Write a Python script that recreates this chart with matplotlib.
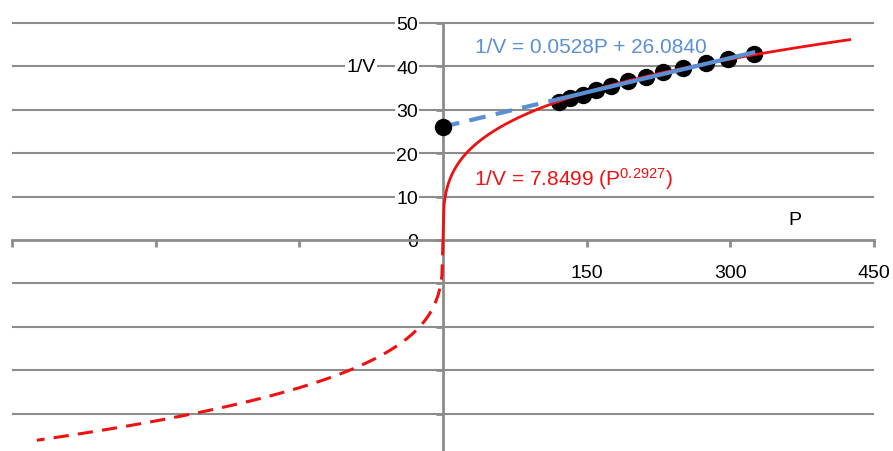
import numpy as np
import matplotlib
matplotlib.use("Agg")
import matplotlib.pyplot as plt

plt.rcParams['font.family'] = ['Liberation Sans', 'DejaVu Sans']
plt.rcParams['mathtext.fontset'] = 'custom'
plt.rcParams['mathtext.rm'] = 'Liberation Sans'
plt.rcParams['mathtext.it'] = 'Liberation Sans'

# measured points (P, 1/V)
p_obs = [121, 133, 146, 160, 175, 193, 212, 230, 251, 275, 298, 325]
inv_v_obs = [31.8, 32.7, 33.5, 34.6, 35.5, 36.6, 37.6, 38.6, 39.7, 40.7, 41.7, 42.8]

# fitted models shown on the chart
pow_a, pow_b = 7.8499, 0.2927
lin_m, lin_c = 0.0528, 26.0840

y_grid = [-40, -30, -20, -10, 0, 10, 20, 30, 40, 50]
y_labels = ['', '', '', '', '0', '10', '20', '30', '40', '50']
x_ticks = [-450, -300, -150, 150, 300, 450]
x_labels = ['', '', '', '150', '300', '450']

grey = '#8c8c8c'
blue = '#5b8fd4'
red = '#ee1111'

fig = plt.figure(figsize=(8.93, 4.52), dpi=100)
ax = fig.add_axes([0, 0, 1, 1])
ax.set_xlim(-462.5, 469.8)
ax.set_ylim(-48.6, 55.5)

for s in ['top', 'right']:
    ax.spines[s].set_visible(False)
ax.spines['left'].set_position(('data', 0))
ax.spines['bottom'].set_position(('data', 0))
ax.spines['left'].set_bounds(-60, 50)
ax.spines['bottom'].set_bounds(-450, 450)
for s in ['left', 'bottom']:
    ax.spines[s].set_color(grey)
    ax.spines[s].set_linewidth(2.0)
    ax.spines[s].set_zorder(2)

ax.hlines([g for g in y_grid if g != 0], -450, 450, color=grey, lw=1.5, zorder=1)

ax.set_yticks(y_grid)
ax.set_yticklabels(y_labels)
ax.set_xticks(x_ticks)
ax.set_xticklabels(x_labels)
ax.tick_params(axis='y', direction='out', length=5, width=2, color=grey,
               pad=13, labelsize=14, labelcolor='black')
ax.tick_params(axis='x', direction='out', length=5, width=2, color=grey,
               pad=12, labelsize=14, labelcolor='black')
for lab in ax.get_yticklabels():
    lab.set_bbox(dict(facecolor='white', edgecolor='none', pad=1))

# power curve, solid for P > 0, dashed mirror for P < 0
pp = np.linspace(0, 426, 400)
ax.plot(pp, pow_a * pp ** pow_b, color=red, lw=2.0, zorder=4, solid_capstyle='butt')
pn = np.linspace(0, 424, 400)
ax.plot(-pn, -pow_a * pn ** pow_b, color=red, lw=2.2, ls=(0, (5, 3)), zorder=4)

# linear fit: dashed extrapolation to intercept, solid across the data
pl1 = np.array([0, 118])
ax.plot(pl1, lin_m * pl1 + lin_c, color=blue, lw=3, ls=(0, (4, 2.5)), zorder=5)
pl2 = np.array([118, 326])
ax.plot(pl2, lin_m * pl2 + lin_c, color=blue, lw=3, zorder=5, solid_capstyle='butt')

ax.plot(p_obs, inv_v_obs, 'o', color='black', ms=11.5, zorder=3)
ax.plot([0], [lin_c], 'o', color='black', ms=11.5, zorder=6)

ax.text(-86, 40, '1/V', fontsize=14, ha='center', va='center',
        bbox=dict(facecolor='white', edgecolor='none', pad=1), zorder=3)
ax.text(367, 4.8, 'P', fontsize=14, ha='center', va='center')
ax.text(33, 44.5, '1/V = 0.0528P + 26.0840', color=blue, fontsize=15,
        ha='left', va='center')
ax.text(32, 14.2, r'1/V = 7.8499 (P$^{0.2927}$)', color=red, fontsize=15,
        ha='left', va='center')

fig.savefig('out.png', dpi=100)
